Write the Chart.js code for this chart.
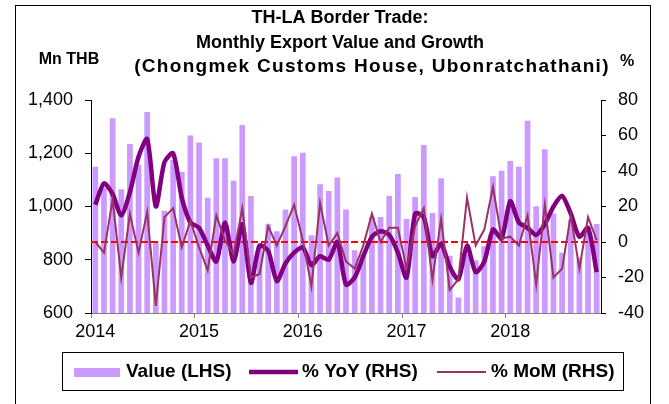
<!DOCTYPE html>
<html>
<head>
<meta charset="utf-8">
<script src="https://cdn.jsdelivr.net/npm/chart.js@4.4.1/dist/chart.umd.min.js"></script>
<style>
html, body { margin: 0; padding: 0; background: #fff; }
</style>
</head>
<body>
<canvas id="c" width="669" height="404"></canvas>
<script>
// monthly data, Jan 2014 - Nov 2018
var years = ['2014', '2015', '2016', '2017', '2018'];
var monthNames = ['Jan', 'Feb', 'Mar', 'Apr', 'May', 'Jun', 'Jul', 'Aug', 'Sep', 'Oct', 'Nov', 'Dec'];

var valueLHS = [
    1149, 1070, 1331, 1065, 1235, 1157, 1355, 867, 984, 1175, 1130, 1267,
    1240, 1033, 1181, 1181, 1097, 1306, 1039, 855, 933, 907, 989, 1189,
    1202, 892, 1084, 1058, 1109, 989, 836, 820, 961, 961, 1040, 1122,
    953, 1036, 1231, 976, 1106, 815, 658, 821, 798, 851, 1114, 1134,
    1171, 1149, 1322, 1001, 1215, 974, 826, 950, 808, 923, 934
];
var yoyRHS = [
    21, 33, 27, 15, 28, 48, 58, 20, 45, 50, 25, 11,
    8, -2, -11, 11, -11, 10, -23, -2, -5, -22, -12, -6,
    -3, -13, -8, -10, 0, -24, -20, -8, 3, 6, 4, -6,
    -20, 16, 14, -8, -1, -14, -21, -2, -17, -11, 7, 2,
    23, 11, 8, 4, 10, 20, 26, 16, 3, 8, -17
];
var momRHS = [
    0, -6, 24, -20, 16, -6, 17, -36, 14, 19, -3, 12,
    -3, -16, 15, 1, -7, 19, -20, -18, 9, -2, 9, 21,
    1, -25, 22, -2, 5, -11, -15, -2, 16, 0, 8, 8,
    -15, 9, 19, -21, 13, -27, -21, 25, -2, 7, 31, 2,
    3, -2, 15, -24, 21, -20, -15, 15, -15, 14, 1
];

var labels = [];
for (var i = 0; i < valueLHS.length; i++) {
    labels.push(monthNames[i % 12] + ' ' + years[Math.floor(i / 12)]);
}

var FONT = '"Liberation Sans", Arial, sans-serif';
var BAR_COLOR = '#CC99FF';
var YOY_COLOR = '#800080';
var MOM_COLOR = '#993366';

var decoPlugin = {
    id: 'deco',
    afterDatasetDraw: function (chart, args) {
        if (args.index !== 0) return;
        // red dashed zero line of the right axis
        var ctx = chart.ctx;
        var area = chart.chartArea;
        var y = chart.scales.y1.getPixelForValue(0);
        ctx.save();
        ctx.strokeStyle = '#FF0000';
        ctx.lineWidth = 2;
        ctx.setLineDash([7, 3]);
        ctx.beginPath();
        ctx.moveTo(area.left, y);
        ctx.lineTo(area.right, y);
        ctx.stroke();
        ctx.restore();
    },
    afterDraw: function (chart) {
        var ctx = chart.ctx;
        ctx.save();
        // outer frame
        ctx.strokeStyle = '#000';
        ctx.lineWidth = 1;
        ctx.strokeRect(15.5, 5.5, 635, 420);

        // titles
        ctx.fillStyle = '#000';
        ctx.textAlign = 'center';
        ctx.textBaseline = 'middle';
        ctx.font = 'bold 18px ' + FONT;
        ctx.fillText('TH-LA Border Trade:', 340, 18);
        ctx.fillText('Monthly Export Value and Growth', 340, 43);
        ctx.font = 'bold 19px ' + FONT;
        ctx.letterSpacing = '1.3px';
        ctx.fillText('(Chongmek Customs House, Ubonratchathani)', 372, 67);
        ctx.letterSpacing = '0px';
        ctx.font = 'bold 16px ' + FONT;
        ctx.fillText('Mn THB', 69, 60);
        ctx.fillText('%', 627, 62);

        // legend
        ctx.strokeRect(62.5, 352.5, 561, 38);
        var ly = 372;
        ctx.fillStyle = BAR_COLOR;
        ctx.fillRect(74, 368, 46, 9);
        ctx.strokeStyle = YOY_COLOR;
        ctx.lineWidth = 4.5;
        ctx.beginPath(); ctx.moveTo(249, ly); ctx.lineTo(298, ly); ctx.stroke();
        ctx.strokeStyle = MOM_COLOR;
        ctx.lineWidth = 2;
        ctx.beginPath(); ctx.moveTo(437, ly); ctx.lineTo(486, ly); ctx.stroke();
        ctx.fillStyle = '#000';
        ctx.textAlign = 'left';
        ctx.font = 'bold 19px ' + FONT;
        ctx.fillText('Value (LHS)', 126, ly);
        ctx.fillText('% YoY (RHS)', 302, ly);
        ctx.fillText('% MoM (RHS)', 491, ly);
        ctx.restore();
    }
};

var chart = new Chart(document.getElementById('c'), {
    type: 'bar',
    data: {
        labels: labels,
        datasets: [
            {
                label: 'Value (LHS)',
                data: valueLHS,
                backgroundColor: BAR_COLOR,
                yAxisID: 'y',
                barPercentage: 0.66,
                categoryPercentage: 1,
                order: 2
            },
            {
                type: 'line',
                label: '% YoY (RHS)',
                data: yoyRHS,
                borderColor: YOY_COLOR,
                borderWidth: 4.5,
                pointRadius: 0,
                tension: 0.25,
                yAxisID: 'y1',
                order: 1
            },
            {
                type: 'line',
                label: '% MoM (RHS)',
                data: momRHS,
                borderColor: MOM_COLOR,
                borderWidth: 2,
                pointRadius: 0,
                tension: 0,
                yAxisID: 'y1',
                order: 0
            }
        ]
    },
    options: {
        responsive: false,
        animation: false,
        layout: {
            padding: { top: 100, bottom: 61, left: 0, right: 0 }
        },
        plugins: {
            legend: { display: false },
            title: { display: false },
            tooltip: { enabled: false }
        },
        scales: {
            x: {
                afterFit: function (scale) { scale.height = 30; },
                border: { display: true, color: '#808080', width: 1 },
                grid: {
                    drawOnChartArea: false,
                    tickLength: 5,
                    color: function (ctx) {
                        return ctx.index % 12 === 0 && ctx.index < valueLHS.length ? '#808080' : 'rgba(0,0,0,0)';
                    }
                },
                ticks: {
                    autoSkip: false,
                    maxRotation: 0,
                    padding: 3,
                    color: '#000',
                    font: { family: FONT, size: 18 },
                    callback: function (val, i) {
                        return i % 12 === 0 ? years[i / 12] : '';
                    }
                }
            },
            y: {
                position: 'left',
                min: 600,
                max: 1400,
                afterFit: function (scale) { scale.width = 91; },
                border: { display: true, color: '#000', width: 1 },
                grid: { drawOnChartArea: false, tickLength: 6, color: '#000' },
                ticks: {
                    stepSize: 200,
                    padding: 12,
                    color: '#000',
                    font: { family: FONT, size: 18 },
                    callback: function (v) { return v.toLocaleString('en-US'); }
                }
            },
            y1: {
                position: 'right',
                min: -40,
                max: 80,
                afterFit: function (scale) { scale.width = 68; },
                border: { display: true, color: '#000', width: 1 },
                grid: { drawOnChartArea: false, tickLength: 5, color: '#000' },
                ticks: {
                    stepSize: 20,
                    padding: 12,
                    color: '#000',
                    font: { family: FONT, size: 18 }
                }
            }
        }
    },
    plugins: [decoPlugin]
});
</script>
</body>
</html>
